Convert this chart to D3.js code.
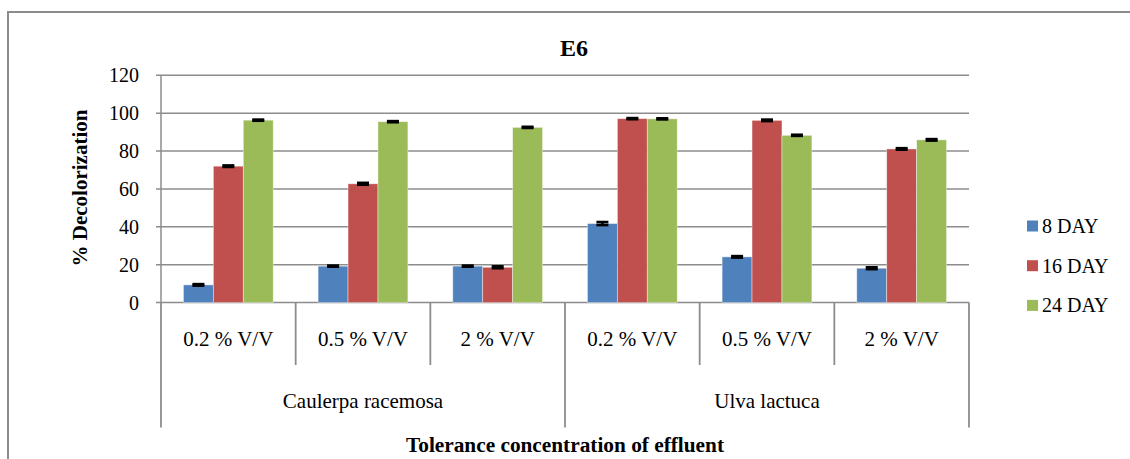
<!DOCTYPE html>
<html>
<head>
    <title>E6</title>
    <script src="https://d3js.org/d3.v7.min.js"></script>
    <style>
        body { margin: 0; background: #fff; }
    </style>
</head>
<body>
    <svg width="1130" height="459" font-family="'Liberation Serif', 'DejaVu Serif', serif"></svg>

    <script>
        // data
        const concentrations = ["0.2 % V/V", "0.5 % V/V", "2 % V/V", "0.2 % V/V", "0.5 % V/V", "2 % V/V"];
        const species = ["Caulerpa racemosa", "Ulva lactuca"];
        const seriesNames = ["8 DAY", "16 DAY", "24 DAY"];
        const day8 = [9.3, 19.2, 19.2, 41.7, 24.1, 18.1];
        const day16 = [72.0, 62.7, 18.6, 97.1, 96.2, 81.1];
        const day24 = [96.3, 95.5, 92.5, 97.0, 88.3, 85.9];
        const err8 = [0.4, 0.3, 0.3, 0.8, 0.4, 0.5];
        const err16 = [0.4, 0.5, 0.5, 0.3, 0.4, 0.4];
        const err24 = [0.3, 0.3, 0.3, 0.3, 0.3, 0.4];
        const yTicks = [0, 20, 40, 60, 80, 100, 120];
        const colors = ["#4F81BD", "#C0504D", "#9BBB59"];

        const series = [day8, day16, day24];
        const errors = [err8, err16, err24];

        const svg = d3.select("svg");
        const grid = "#8c8c8c";

        // outer chart border (right and bottom are cropped off)
        svg.append("path")
            .attr("d", "M8,459 V12 H1130")
            .attr("fill", "none")
            .attr("stroke", grid)
            .attr("stroke-width", 2);

        const plotL = 161, plotR = 969, plotT = 75.3, plotB = 302.5;

        const x = d3.scaleBand()
            .domain(d3.range(concentrations.length))
            .range([plotL, plotR])
            .padding(0);
        const bw = x.bandwidth();
        const xs = d3.scaleBand()
            .domain(d3.range(series.length))
            .range([bw / 6, bw * 5 / 6]);
        const y = d3.scaleLinear().domain([0, 120]).range([plotB, plotT]);

        // gridlines + y ticks
        svg.append("g").selectAll("line")
            .data(yTicks)
            .join("line")
            .attr("x1", plotL - 5)
            .attr("x2", plotR)
            .attr("y1", d => y(d))
            .attr("y2", d => y(d))
            .attr("stroke", grid)
            .attr("stroke-width", 1.5);

        svg.append("g").selectAll("text")
            .data(yTicks)
            .join("text")
            .attr("x", 139)
            .attr("y", d => y(d))
            .attr("dy", "0.35em")
            .attr("text-anchor", "end")
            .attr("font-size", 20)
            .text(d => d);

        // bars
        series.forEach((vals, s) => {
            svg.append("g").selectAll("rect")
                .data(vals)
                .join("rect")
                .attr("x", (d, i) => x(i) + xs(s))
                .attr("y", d => y(d))
                .attr("width", xs.bandwidth())
                .attr("height", d => y(0) - y(d))
                .attr("fill", colors[s])
                .attr("stroke", "#ffffff")
                .attr("stroke-opacity", 0.5)
                .attr("stroke-width", 0.8);
        });

        // error bars
        series.forEach((vals, s) => {
            const g = svg.append("g")
                .attr("stroke", "#000")
                .attr("stroke-width", 2.6);
            vals.forEach((v, i) => {
                const cx = x(i) + xs(s) + xs.bandwidth() / 2;
                const e = errors[s][i];
                g.append("line")
                    .attr("x1", cx).attr("x2", cx)
                    .attr("y1", y(v - e)).attr("y2", y(v + e));
                [v - e, v + e].forEach(c => {
                    g.append("line")
                        .attr("x1", cx - 6).attr("x2", cx + 6)
                        .attr("y1", y(c)).attr("y2", y(c));
                });
            });
        });

        // axis line
        svg.append("line")
            .attr("x1", plotL).attr("x2", plotL)
            .attr("y1", plotT).attr("y2", plotB)
            .attr("stroke", grid).attr("stroke-width", 1.5);

        // category separators: long ones between species, short ones between concentrations
        const bounds = d3.range(concentrations.length + 1);
        svg.append("g").selectAll("line")
            .data(bounds)
            .join("line")
            .attr("x1", i => i === concentrations.length ? plotR : x(i))
            .attr("x2", i => i === concentrations.length ? plotR : x(i))
            .attr("y1", plotB)
            .attr("y2", i => i % 3 === 0 ? 427.5 : 365)
            .attr("stroke", grid)
            .attr("stroke-width", 1.8);

        svg.append("g").selectAll("text")
            .data(concentrations)
            .join("text")
            .attr("x", (d, i) => x(i) + bw / 2)
            .attr("y", 345.5)
            .attr("text-anchor", "middle")
            .attr("font-size", 21)
            .text(d => d);

        svg.append("g").selectAll("text")
            .data(species)
            .join("text")
            .attr("x", (d, i) => x(i * 3) + bw * 1.5)
            .attr("y", 408)
            .attr("text-anchor", "middle")
            .attr("font-size", 21)
            .text(d => d);

        // titles
        svg.append("text")
            .attr("x", 574)
            .attr("y", 56)
            .attr("text-anchor", "middle")
            .attr("font-size", 24)
            .attr("font-weight", "bold")
            .text("E6");

        svg.append("text")
            .attr("x", 565)
            .attr("y", 452)
            .attr("text-anchor", "middle")
            .attr("font-size", 21.3)
            .attr("font-weight", "bold")
            .text("Tolerance concentration of effluent");

        svg.append("text")
            .attr("transform", "translate(87,188) rotate(-90)")
            .attr("text-anchor", "middle")
            .attr("font-size", 21)
            .attr("font-weight", "bold")
            .text("% Decolorization");

        // legend
        const legend = svg.append("g").selectAll("g")
            .data(seriesNames)
            .join("g")
            .attr("transform", (d, i) => `translate(1027,${226 + i * 39.7})`);
        legend.append("rect")
            .attr("x", 0).attr("y", -5.5)
            .attr("width", 11).attr("height", 11)
            .attr("fill", (d, i) => colors[i]);
        legend.append("text")
            .attr("x", 15)
            .attr("y", 0)
            .attr("dy", "0.35em")
            .attr("font-size", 20)
            .text(d => d);
    </script>
</body>
</html>
